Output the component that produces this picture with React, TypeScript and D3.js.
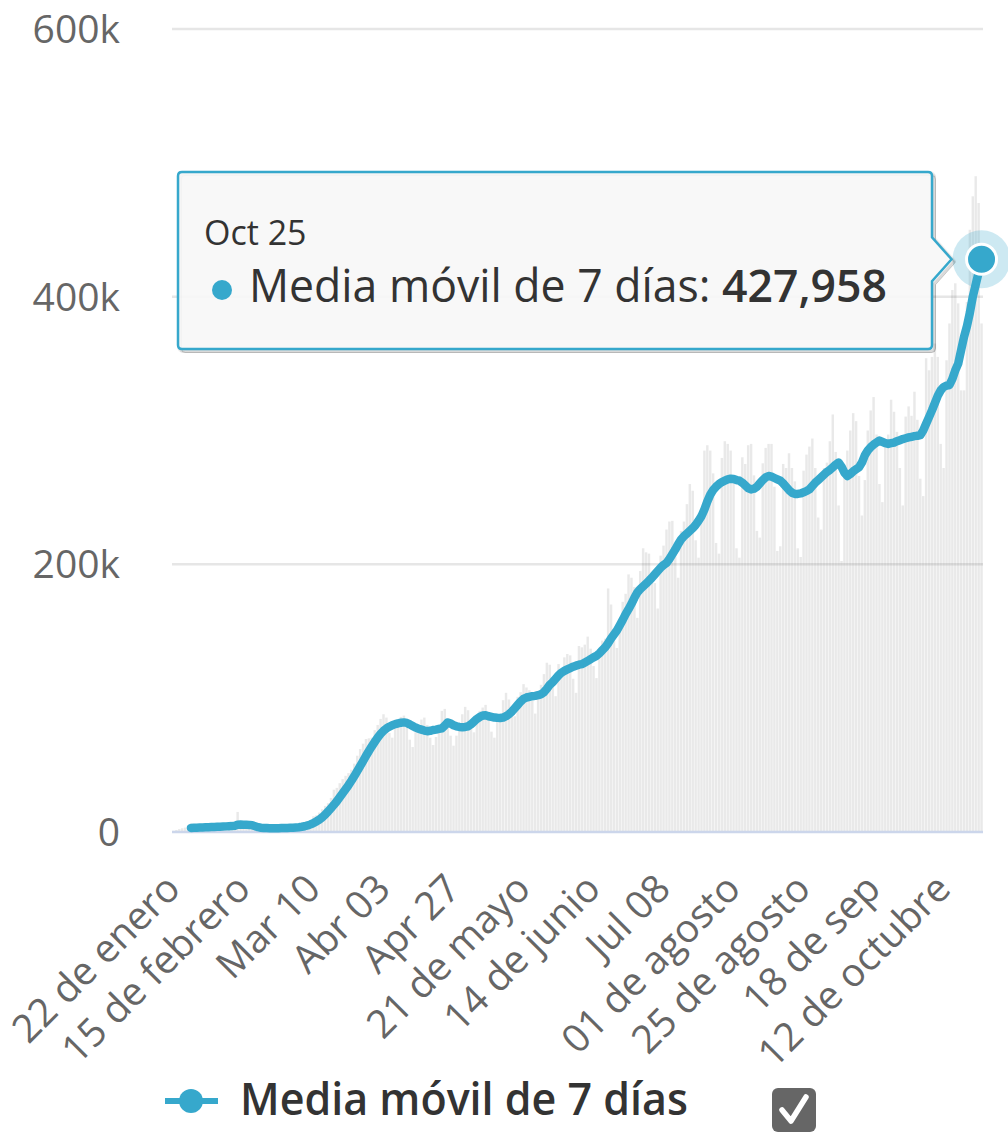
import * as d3 from 'd3';

const WIDTH = 1008;
const HEIGHT = 1134;
const PLOT = { left: 172, right: 983, top: 29, bottom: 832 };
const BLUE = '#36a8cc';
const LABEL = '#666666';
const DARK = '#333333';
const FONT = "'Open Sans', 'Noto Sans', sans-serif";

// casos diarios en miles, 22 de enero .. 25 de octubre (semanas mié-mar)
const dailyCases = [
  0.9, 1.5, 2.2, 2.8, 3.3, 4.0, 6.3,
  3.4, 3.9, 3.6, 3.8, 3.5, 3.2, 4.5,
  4.6, 4.9, 4.4, 4.2, 4.0, 3.9, 4.8,
  1.5, 15.0, 6.0, 3.0, 3.2, 2.8, 3.5,
  2.4, 2.6, 2.9, 3.0, 2.7, 2.6, 3.4,
  2.9, 3.0, 3.1, 3.3, 3.0, 3.0, 4.1,
  3.9, 4.4, 5.3, 6.2, 6.8, 8.5, 11.8,
  12.5, 14.5, 17.0, 19.5, 21.5, 25.5, 31.6,
  33.0, 36.5, 39.5, 42.0, 44.0, 46.5, 51.1,
  57.0, 62.0, 66.0, 69.5, 70.0, 70.5, 76.1,
  80.0, 84.5, 88.0, 85.5, 74.0, 70.5, 81.7,
  82.5, 86.0, 87.0, 83.5, 69.0, 63.5, 74.5,
  79.5, 84.0, 85.5, 80.0, 70.5, 65.0, 71.0,
  77.0, 90.5, 92.0, 85.0, 72.0, 64.5, 72.0,
  80.5, 88.0, 93.5, 91.0, 78.0, 74.5, 86.0,
  90.5, 93.0, 95.0, 87.5, 75.0, 70.5, 85.6,
  88.0, 98.5, 104.0, 99.0, 88.0, 86.5, 101.0,
  104.5, 110.5, 108.0, 106.0, 98.0, 88.5, 100.0,
  110.0, 118.0, 126.5, 125.0, 112.5, 101.5, 125.5,
  122.0, 130.5, 133.0, 132.0, 114.5, 104.0, 139.0,
  138.0, 140.0, 146.0, 137.0, 124.0, 115.0, 134.5,
  143.0, 144.5, 182.0, 170.0, 152.0, 137.5, 152.5,
  172.0, 178.0, 192.5, 190.0, 183.0, 160.0, 195.0,
  212.0, 209.0, 208.0, 194.0, 186.0, 167.0, 206.5,
  214.0, 226.0, 232.0, 232.5, 210.0, 190.0, 225.0,
  232.0, 245.0, 260.0, 255.0, 218.0, 205.0, 237.0,
  285.0, 289.0, 285.0, 268.0, 216.0, 208.0, 279.5,
  292.0, 290.0, 285.0, 263.0, 212.0, 205.0, 280.0,
  275.0, 289.0, 290.0, 266.5, 225.0, 220.0, 275.5,
  287.0, 290.0, 290.0, 258.0, 210.0, 213.5, 275.0,
  272.0, 283.0, 272.0, 262.0, 212.0, 205.5, 270.0,
  282.0, 288.0, 294.0, 272.0, 235.0, 226.0, 272.0,
  276.0, 292.0, 312.0, 284.0, 244.0, 202.5, 269.0,
  285.0, 300.0, 313.0, 307.0, 266.0, 236.5, 263.0,
  300.0, 315.0, 325.0, 297.0, 260.0, 246.5, 290.0,
  297.0, 323.0, 314.0, 299.0, 272.0, 244.0, 310.4,
  318.0, 311.0, 329.0, 308.0, 264.0, 251.0, 354.0,
  345.0, 355.0, 365.0, 355.0, 290.0, 272.0, 352.5,
  380.0, 405.0, 410.0, 395.0, 330.0, 330.0, 396.0,
  450.0, 475.0, 490.0, 470.0, 380.0,
];

// media móvil de 7 días en miles, desde el 28 de enero
const MA_START = 6;
const movingAverage = [
  3.0, 3.1, 3.2, 3.3,
  3.4, 3.5, 3.6, 3.7, 3.8, 3.9, 4.0, 4.1, 4.2, 4.3,
  4.4, 4.6, 5.5, 5.6, 5.5, 5.4, 5.3, 5.0, 4.3, 3.6,
  3.2, 3.0, 2.9, 2.8, 2.8, 2.8, 2.8, 2.9, 3.0,
  3.0, 3.1, 3.2, 3.4, 3.6, 3.9, 4.3, 4.9, 5.7, 6.7,
  7.9, 9.3, 11.0, 13.0, 15.3, 17.8, 20.3, 23.0, 26.0, 29.0,
  32.0, 35.0, 38.3, 41.8, 45.5, 49.3, 53.0, 56.8, 60.5, 64.0, 67.3,
  70.5, 73.3, 75.6, 77.4, 78.7, 79.8, 80.6, 81.2, 81.7, 81.9,
  81.5, 80.4, 79.2, 78.0, 77.2, 76.5, 75.8, 75.3, 75.6, 76.2,
  76.5, 77.0, 77.5, 79.5, 81.8, 81.0, 79.8, 79.0, 78.5, 78.3,
  78.5, 79.0, 80.5, 82.5, 84.5, 86.0, 87.0, 87.2, 86.5, 86.0,
  85.5, 85.3, 85.2, 85.5, 86.5, 88.0, 90.0, 92.5, 95.0, 97.5,
  99.5, 100.5, 101.0, 101.5, 101.7, 102.2, 103.0, 104.5, 107.0, 110.0, 112.0,
  114.5, 117.0, 119.0, 120.4, 121.5, 122.5, 123.5, 124.3, 125.0, 125.5,
  126.5, 127.8, 129.2, 130.5, 131.6, 133.5, 135.8, 138.0, 141.0, 144.5,
  147.5, 150.5, 154.5, 158.5, 162.8, 166.5, 170.5, 175.0, 179.0, 181.5,
  183.5, 185.5, 187.7, 190.0, 192.5, 195.0, 197.5, 199.5, 201.0, 204.0,
  207.5, 211.0, 215.0, 218.5, 221.0, 223.0, 225.0, 227.0, 229.5, 232.6,
  236.0, 241.0, 247.0, 252.0, 255.5, 258.0, 260.0, 261.5, 262.5, 263.5, 264.0,
  263.8, 263.0, 262.5, 261.0, 259.0, 257.0, 256.0, 256.5, 258.0, 260.5,
  263.0, 265.0, 266.0, 265.5, 264.5, 263.5, 262.5, 260.5, 258.0, 255.5,
  253.5, 252.6, 252.6, 253.0, 253.8, 254.8, 256.0, 258.5, 261.0, 263.0, 265.0,
  267.0, 269.0, 270.5, 272.5, 274.5, 276.0, 273.0, 268.5, 266.0, 267.5,
  269.5, 271.0, 272.5, 276.0, 281.5, 285.0, 287.5, 289.5, 291.0, 292.5,
  291.5, 290.5, 290.0, 290.5, 291.0, 292.0, 292.8, 293.6, 294.2, 294.8,
  295.3, 295.8, 296.0, 296.5, 300.0, 305.0, 310.0, 315.0, 320.5, 326.0,
  330.0, 332.5, 333.5, 334.0, 338.5, 345.0, 350.0, 360.0, 370.0, 378.0,
  388.0, 400.0, 409.0, 418.0, 427.958,
];

const TICK_EVERY = 24;
const xTickLabels = [
  '22 de enero', '15 de febrero', 'Mar 10', 'Abr 03', 'Apr 27', '21 de mayo',
  '14 de junio', 'Jul 08', '01 de agosto', '25 de agosto', '18 de sep', '12 de octubre',
];
const yTickValues = [0, 200000, 400000, 600000];
const SERIES_NAME = 'Media móvil de 7 días';
const TOOLTIP_DATE = 'Oct 25';

export default function App() {
  const x = d3
    .scaleBand<number>()
    .domain(d3.range(dailyCases.length))
    .range([PLOT.left, PLOT.right]);
  const step = x.step();
  const cx = (i: number) => (x(i) ?? 0) + step / 2;
  const barW = step * 0.85;

  const y = d3.scaleLinear().domain([0, 600000]).range([PLOT.bottom, PLOT.top]);

  const line = d3
    .line<number>()
    .x((_, i) => cx(i + MA_START))
    .y((d) => y(d * 1000));

  const last = movingAverage.length - 1;
  const px = cx(last + MA_START);
  const py = y(movingAverage[last] * 1000);
  const valueText = d3.format(',')(Math.round(movingAverage[last] * 1000));

  // caja del tooltip
  const bx0 = 178, bx1 = 932, by0 = 172, by1 = 349, r = 4;
  const tipX = px - 30;
  const tooltipPath = `M${bx0 + r},${by0} H${bx1 - r} Q${bx1},${by0} ${bx1},${by0 + r} V${py - 22} L${tipX},${py} L${bx1},${py + 22} V${by1 - r} Q${bx1},${by1} ${bx1 - r},${by1} H${bx0 + r} Q${bx0},${by1} ${bx0},${by1 - r} V${by0 + r} Q${bx0},${by0} ${bx0 + r},${by0} Z`;

  return (
    <svg
      width={WIDTH}
      height={HEIGHT}
      viewBox={`0 0 ${WIDTH} ${HEIGHT}`}
      style={{ position: 'absolute', left: 0, top: 0, background: '#fff', fontFamily: FONT }}
    >
      {/* rejilla */}
      {yTickValues
        .filter((v) => v > 0)
        .map((v) => (
          <line key={v} x1={PLOT.left} x2={PLOT.right} y1={y(v)} y2={y(v)} stroke="#e6e6e6" strokeWidth={2.5} />
        ))}

      {/* columnas diarias */}
      {dailyCases.map((d, i) => (
        <rect
          key={i}
          x={cx(i) - barW / 2}
          y={y(d * 1000)}
          width={barW}
          height={PLOT.bottom - y(d * 1000)}
          fill="#000"
          fillOpacity={0.085}
        />
      ))}

      {/* eje x */}
      <line x1={PLOT.left} x2={PLOT.right} y1={PLOT.bottom} y2={PLOT.bottom} stroke="#ccd6eb" strokeWidth={2.5} />

      {/* etiquetas eje y */}
      {yTickValues.map((v) => (
        <text key={v} x={120} y={y(v)} dy="0.36em" textAnchor="end" fontSize={39} fill={LABEL}>
          {v === 0 ? '0' : `${v / 1000}k`}
        </text>
      ))}

      {/* etiquetas eje x */}
      {xTickLabels.map((label, k) => {
        const tx = cx(k * TICK_EVERY) + 9;
        return (
          <text
            key={label}
            transform={`translate(${tx},${891}) rotate(-45)`}
            textAnchor="end"
            fontSize={39}
            fill={LABEL}
          >
            {label}
          </text>
        );
      })}

      {/* media móvil */}
      <path
        d={line(movingAverage) ?? ''}
        fill="none"
        stroke={BLUE}
        strokeWidth={8.5}
        strokeLinejoin="round"
        strokeLinecap="round"
      />
      <circle cx={px} cy={py} r={29} fill={BLUE} fillOpacity={0.25} />
      <circle cx={px} cy={py} r={15} fill={BLUE} stroke="#fff" strokeWidth={3} />

      {/* tooltip */}
      <g>
        {[5, 3, 1].map((w, k) => (
          <path
            key={w}
            d={tooltipPath}
            transform={`translate(${k + 1.5},${k + 1.5})`}
            fill="none"
            stroke="#000"
            strokeOpacity={0.05 * (k + 1)}
            strokeWidth={w}
          />
        ))}
        <path d={tooltipPath} fill="#f7f7f7" fillOpacity={0.92} stroke={BLUE} strokeWidth={2.5} />
        <text x={204} y={245} fontSize={34} fill={DARK}>
          {TOOLTIP_DATE}
        </text>
        <circle cx={222} cy={290} r={10} fill={BLUE} />
        <text x={249} y={302} fontSize={46} fill={DARK} textLength={638} lengthAdjust="spacingAndGlyphs">
          {`${SERIES_NAME}: `}
          <tspan fontWeight={600}>{valueText}</tspan>
        </text>
      </g>

      {/* leyenda */}
      <line x1={165} x2={218} y1={1101} y2={1101} stroke={BLUE} strokeWidth={6} />
      <circle cx={191} cy={1101} r={12} fill={BLUE} />
      <text x={240} y={1115} fontSize={46} fontWeight={600} fill={DARK} textLength={448} lengthAdjust="spacingAndGlyphs">
        {SERIES_NAME}
      </text>
      <rect x={772} y={1088} width={44} height={44} rx={6} fill="#666" />
      <path d="M782,1110 L791,1121 L806,1097" fill="none" stroke="#fff" strokeWidth={5.5} strokeLinecap="round" strokeLinejoin="round" />
    </svg>
  );
}
